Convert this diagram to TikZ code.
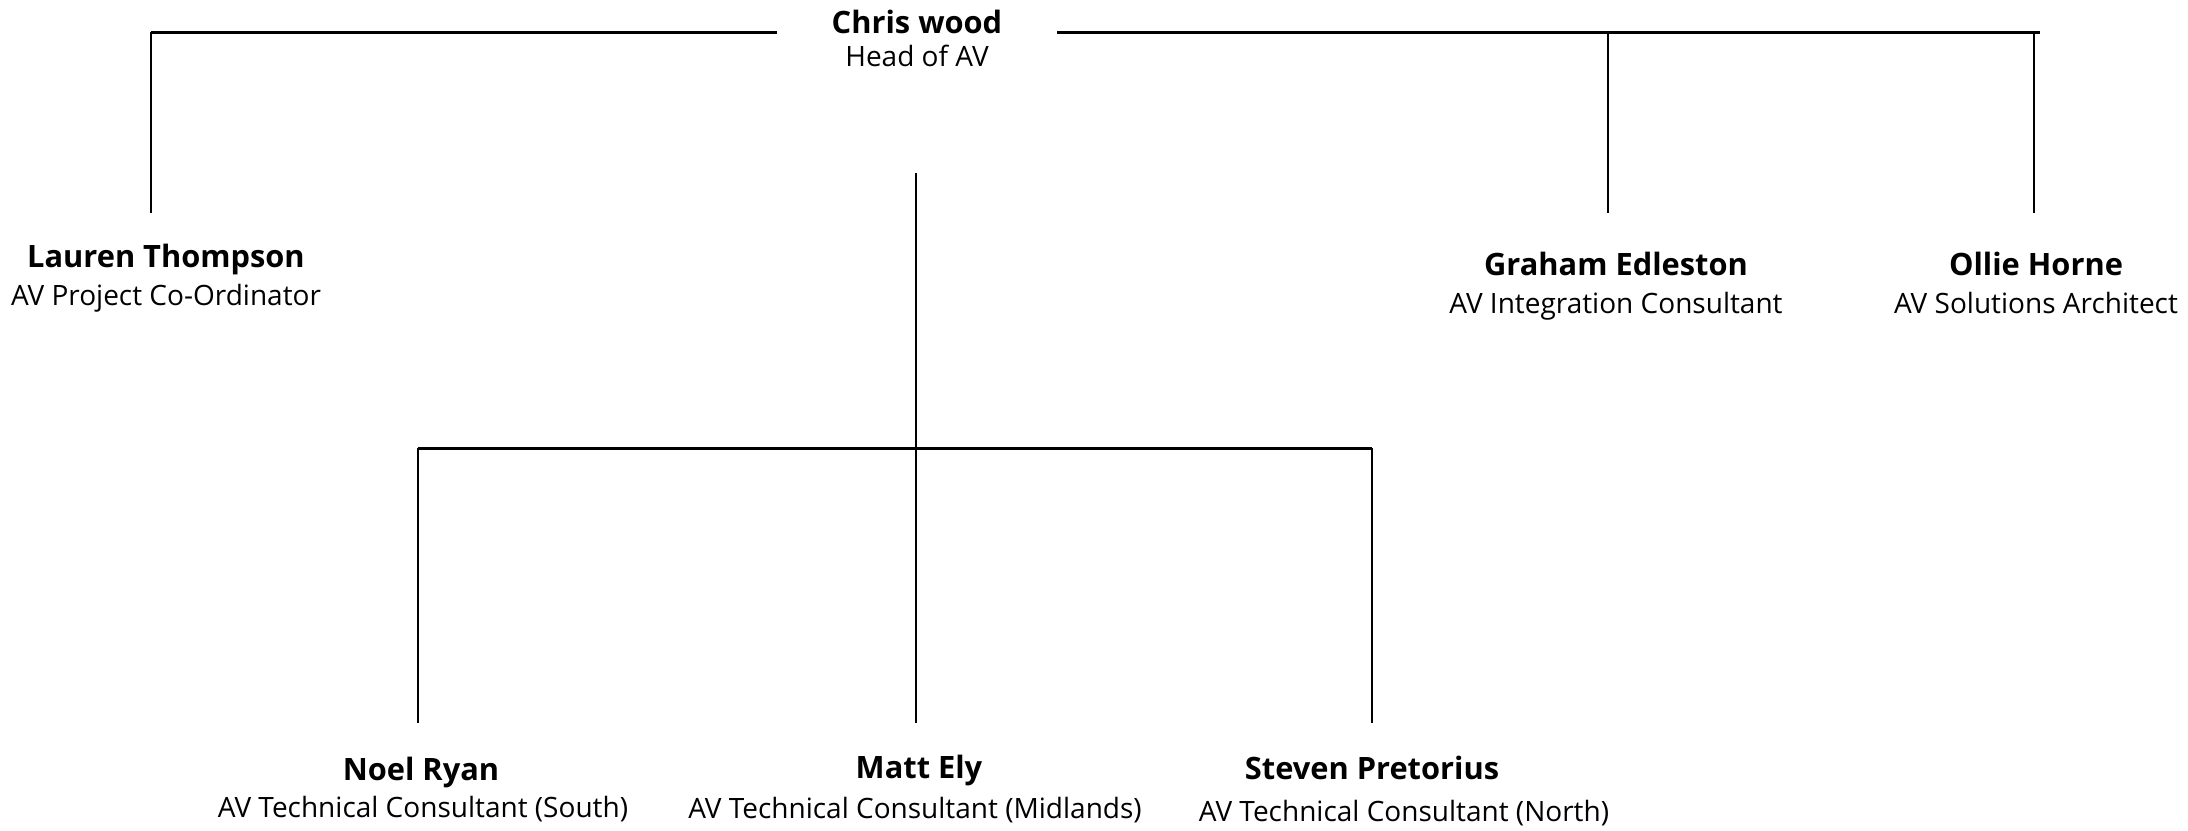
\documentclass[tikz,border=0pt]{standalone}
\usepackage{fontspec}
\setmainfont{Open Sans}
\begin{document}
\begin{tikzpicture}[x=0.5pt,y=-0.5pt,
  pname/.style={font=\bfseries\fontsize{15.4}{18}\selectfont, anchor=base, inner sep=0pt},
  prole/.style={font=\fontsize{14}{16}\selectfont, anchor=base, inner sep=0pt},
  hline/.style={line width=1.5pt, black},
  vline/.style={line width=1.05pt, black}]
\useasboundingbox[fill=white] (0,0) rectangle (2188,830);
% people
\node[pname] (chris) at (917,33) {Chris wood};
\node[prole] (chrisR) at (917,66) {Head of AV};
\node[pname] (lauren) at (166,267) {Lauren Thompson};
\node[prole] (laurenR) at (166,305) {AV Project Co-Ordinator};
\node[pname] (graham) at (1616,275) {Graham Edleston};
\node[prole] (grahamR) at (1616,313) {AV Integration Consultant};
\node[pname] (ollie) at (2036,275) {Ollie Horne};
\node[prole] (ollieR) at (2036,313) {AV Solutions Architect};
\node[pname] (noel) at (421,780) {Noel Ryan};
\node[prole] (noelR) at (423,817) {AV Technical Consultant (South)};
\node[pname] (matt) at (919,778) {Matt Ely};
\node[prole] (mattR) at (915,818) {AV Technical Consultant (Midlands)};
\node[pname] (steven) at (1372,779) {Steven Pretorius};
\node[prole] (stevenR) at (1404,821) {AV Technical Consultant (North)};
% junction coordinates
\coordinate (tlA) at (151,32);
\coordinate (tlB) at (777,32);
\coordinate (trA) at (1057,32);
\coordinate (trB) at (2040,32);
\coordinate (gTop) at (1608,32);
\coordinate (oTop) at (2034,32);
\coordinate (lEnd) at (151,213);
\coordinate (gEnd) at (1608,213);
\coordinate (oEnd) at (2034,213);
\coordinate (cTop) at (916,173);
\coordinate (cEnd) at (916,723);
\coordinate (bL) at (418,448);
\coordinate (bR) at (1372,448);
\coordinate (nEnd) at (418,723);
\coordinate (sEnd) at (1372,723);
% connectors
\draw[hline] (tlB) -- (tlA);
\draw[vline] (tlA) -- (lEnd);
\draw[hline] (trA) -- (trB);
\draw[vline] (gTop) -- (gEnd);
\draw[vline] (oTop) -- (oEnd);
\draw[vline] (cTop) -- (cEnd);
\draw[hline] (bL) -- (bR);
\draw[vline] (bL) -- (nEnd);
\draw[vline] (bR) -- (sEnd);
\end{tikzpicture}
\end{document}
